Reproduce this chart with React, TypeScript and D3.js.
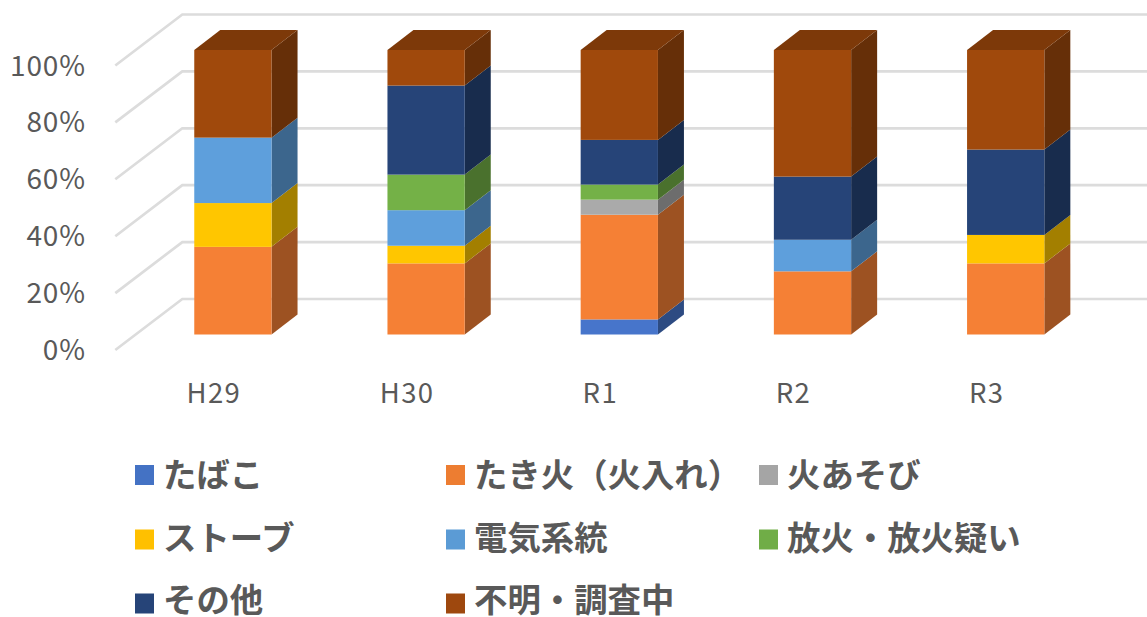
import * as React from 'react'
import * as d3 from 'd3'

const categories = ['H29', 'H30', 'R1', 'R2', 'R3']
const seriesNames = ['たばこ', 'たき火（火入れ）', '火あそび', 'ストーブ', '電気系統', '放火・放火疑い', 'その他', '不明・調査中']

// percent share per year
const tabako = [0, 0, 5.3, 0, 0]
const takibi = [30.8, 25, 36.8, 22.2, 25]
const hiasobi = [0, 0, 5.3, 0, 0]
const stove = [15.4, 6.2, 0, 0, 10]
const denki = [23, 12.5, 0, 11.1, 0]
const houka = [0, 12.5, 5.3, 0, 0]
const sonota = [0, 31.3, 15.7, 22.2, 30]
const fumei = [30.8, 12.5, 31.6, 44.5, 35]
const allSeries = [tabako, takibi, hiasobi, stove, denki, houka, sonota, fumei]

const yTicks = [0, 20, 40, 60, 80, 100]

const legendColors = ['#4472c4', '#ed7d31', '#a5a5a5', '#ffc000', '#5b9bd5', '#70ad47', '#264478', '#9e480e']
const frontColors = ['#4775cb', '#f58035', '#aaaaaa', '#ffc600', '#5e9fdc', '#74b147', '#264478', '#a0490c']

const font = '"Noto Sans CJK JP", "Noto Sans", sans-serif'
const textColor = '#595959'

// 3d offsets, bar front to back and floor front to back wall
const depthX = 26
const depthY = -20
const wallX = 67
const wallY = -51

const shade = (c: string, k: number) => {
    const r = d3.rgb(c)
    return d3.rgb(r.r * k, r.g * k, r.b * k).formatHex()
}

export default function App() {
    const y = d3.scaleLinear().domain([0, 100]).range([334.5, 50])
    const x = d3.scaleBand<string>().domain(categories).range([136.3, 1102.3]).paddingInner(0.6).paddingOuter(0.3)
    const bw = x.bandwidth()
    const floorY = (t: number) => y(t) + 15.5
    const leftX = 115.3
    const poly = d3.line()

    const stacked = d3.stack<number>()
        .keys(d3.range(allSeries.length).map(String))
        .value((i, key) => allSeries[+key][i])(d3.range(categories.length))

    const legendX = [135, 446, 759]
    const swatchY = [475, 539.5, 603.5]
    const labelY = [475, 538, 600]

    return <svg width={1147} height={617} style={{ position: 'absolute', left: 0, top: 0, display: 'block' }}>
        <g fill='none' stroke='#dcdcdc' strokeWidth={2.7}>
            {yTicks.map(t => <path key={t} d={poly([
                [leftX, floorY(t)],
                [leftX + wallX, floorY(t) + wallY],
                [1147, floorY(t) + wallY],
            ]) as string} />)}
        </g>
        <g fontFamily={font} fontSize={28} letterSpacing={0.9} fill={textColor} textAnchor='end'>
            {yTicks.map(t => <text key={t} x={86} y={floorY(t)} dy='0.36em'>{t}%</text>)}
        </g>
        {stacked.map((layer, s) => <g key={s}>
            {layer.map((d, i) => {
                if (d[1] - d[0] <= 0) return null
                const x0 = x(categories[i]) as number
                const x1 = x0 + bw
                const y0 = y(d[0])
                const y1 = y(d[1])
                return <g key={i}>
                    <path fill={shade(frontColors[s], 0.64)} d={poly([
                        [x1, y0], [x1 + depthX, y0 + depthY], [x1 + depthX, y1 + depthY], [x1, y1],
                    ]) + 'Z'} />
                    {d[1] >= 99.9 && <path fill={shade(frontColors[s], 0.78)} d={poly([
                        [x0, y1], [x0 + depthX, y1 + depthY], [x1 + depthX, y1 + depthY], [x1, y1],
                    ]) + 'Z'} />}
                    <rect x={x0} y={y1} width={bw} height={y0 - y1} fill={frontColors[s]} />
                </g>
            })}
        </g>)}
        <g fontFamily={font} fontSize={27.5} letterSpacing={1.4} fill={textColor} textAnchor='middle'>
            {categories.map(c => <text key={c} x={(x(c) as number) + bw / 2 - 19} y={393} dy='0.36em'>{c}</text>)}
        </g>
        <g fontFamily={font} fontSize={33.4} fontWeight={700} fill={textColor}>
            {seriesNames.map((name, i) => {
                const lx = legendX[i % 3]
                const row = Math.floor(i / 3)
                return <g key={name}>
                    <rect x={lx} y={swatchY[row] - 10} width={19} height={20} fill={legendColors[i]} />
                    <text x={lx + 28} y={labelY[row]} dy='0.36em'>{name}</text>
                </g>
            })}
        </g>
    </svg>
}
